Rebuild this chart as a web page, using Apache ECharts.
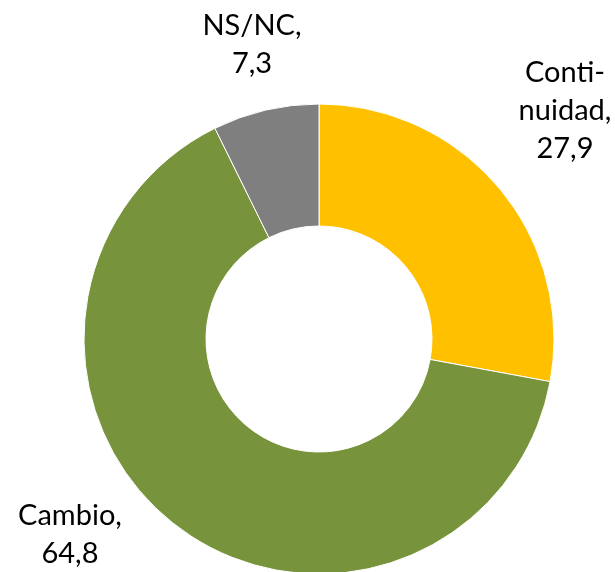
<!DOCTYPE html>
<html>
<head>
<meta charset="utf-8">
<script src="https://cdn.jsdelivr.net/npm/echarts@6/dist/echarts.min.js"></script>
<style>
  html, body { margin: 0; padding: 0; background: #fff; }
  #chart { width: 615px; height: 572px; }
</style>
</head>
<body>
<div id="chart"></div>
<script>
var categories = ['Conti-\nnuidad', 'Cambio', 'NS/NC'];
var values = [27.9, 64.8, 7.3];
var colors = ['#FFC000', '#77933C', '#7F7F7F'];

// where each label block sits (center x, center y)
var labelPos = [[565, 111], [70, 535], [252, 45]];

var myChart = echarts.init(document.getElementById('chart'));

var option = {
    animation: false,
    series: [
        {
            type: 'pie',
            center: [319, 339],
            radius: [113, 235],
            startAngle: 90,
            clockwise: true,
            itemStyle: {
                borderColor: '#fff',
                borderWidth: 1
            },
            label: {
                show: true,
                position: 'outside',
                overflow: 'none',
                bleedMargin: 0,
                fontFamily: 'Lato',
                fontSize: 29,
                lineHeight: 38,
                color: '#000',
                align: 'center',
                formatter: function (p) {
                    return p.name + ',\n' + String(p.value).replace('.', ',');
                }
            },
            labelLine: { show: false },
            labelLayout: function (params) {
                var pos = labelPos[params.dataIndex];
                return {
                    x: pos[0],
                    y: pos[1],
                    align: 'center',
                    verticalAlign: 'middle'
                };
            },
            data: categories.map(function (name, i) {
                return { name: name, value: values[i], itemStyle: { color: colors[i] } };
            })
        }
    ]
};

myChart.setOption(option);
</script>
</body>
</html>
